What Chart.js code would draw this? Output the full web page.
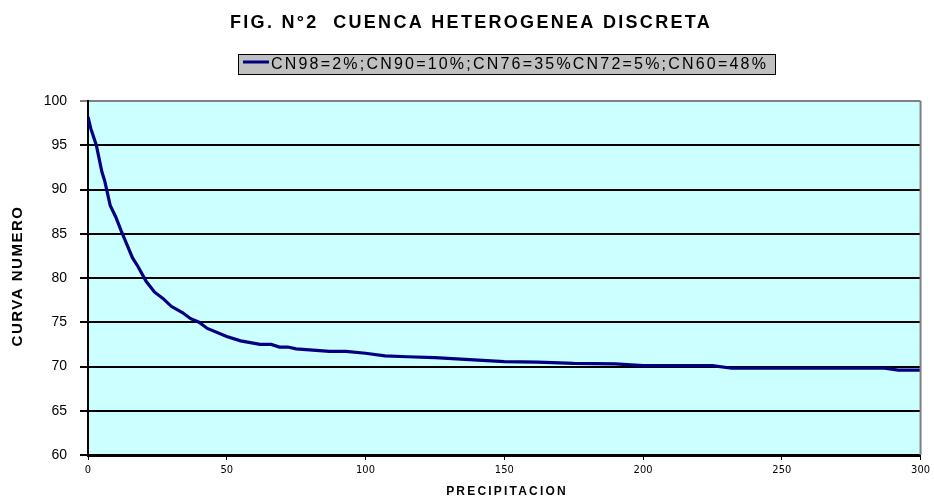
<!DOCTYPE html>
<html>
<head>
<meta charset="utf-8">
<script src="https://cdn.jsdelivr.net/npm/chart.js@4"></script>
<style>
html,body{margin:0;padding:0;background:#fff;}
#c{display:block;}
</style>
</head>
<body>
<canvas id="c" width="934" height="501"></canvas>
<script>
const chartTitle = 'FIG. N°2  CUENCA HETEROGENEA DISCRETA';
const seriesName = 'CN98=2%;CN90=10%;CN76=35%CN72=5%;CN60=48%';
const xTitle = 'PRECIPITACION';
const yTitle = 'CURVA NUMERO';
const precipitacion = [0,1,3,5,6,8,10,12,14,16,18,21,24,27,30,34,37,40,43,50,55,62,66,69,72,75,87,93,100,107,115,125,150,162,175,190,200,225,232,287,292,300];
const curvaNumero = [98.2,96.9,95.0,92.0,91.0,88.2,86.9,85.3,83.8,82.3,81.3,79.6,78.4,77.7,76.8,76.1,75.4,75.0,74.3,73.4,72.9,72.5,72.5,72.2,72.2,72.0,71.7,71.7,71.5,71.2,71.1,71.0,70.55,70.5,70.35,70.3,70.1,70.1,69.8,69.8,69.6,69.6];
const xTicks = [0,50,100,150,200,250,300];
const yTicks = [60,65,70,75,80,85,90,95,100];

const points = precipitacion.map((p,i)=>({x:p, y:curvaNumero[i]}));
const lineColor = '#000080';

const deco = {
  id:'deco',
  beforeDraw(chart){
    const {ctx, chartArea:a} = chart;
    ctx.save();
    ctx.fillStyle = '#ffffff';
    ctx.fillRect(0,0,chart.width,chart.height);
    ctx.fillStyle = '#CCFFFF';
    ctx.fillRect(a.left,a.top,a.right-a.left,a.bottom-a.top);
    ctx.restore();
  },
  afterDraw(chart){
    const {ctx, chartArea:a} = chart;
    ctx.save();
    // right border
    ctx.strokeStyle = '#808080';
    ctx.lineWidth = 2;
    ctx.beginPath();
    ctx.moveTo(a.right, a.top);
    ctx.lineTo(a.right, a.bottom);
    ctx.stroke();

    // title
    ctx.fillStyle = '#000';
    ctx.textBaseline = 'middle';
    ctx.textAlign = 'center';
    ctx.font = 'bold 18px "Liberation Sans", Arial, sans-serif';
    ctx.letterSpacing = '2.3px';
    ctx.fillText(chartTitle, 471, 23);

    // legend box
    ctx.letterSpacing = '0px';
    ctx.fillStyle = '#C0C0C0';
    ctx.fillRect(238, 54, 537, 20);
    ctx.strokeStyle = '#000';
    ctx.lineWidth = 1;
    ctx.strokeRect(238.5, 54.5, 537, 20);
    ctx.strokeStyle = lineColor;
    ctx.lineWidth = 3;
    ctx.beginPath();
    ctx.moveTo(243, 62);
    ctx.lineTo(269, 62);
    ctx.stroke();
    ctx.fillStyle = '#000';
    ctx.textAlign = 'left';
    ctx.font = '16px "Liberation Sans", Arial, sans-serif';
    ctx.letterSpacing = '2.2px';
    ctx.fillText(seriesName, 271, 65);

    // x title
    ctx.textAlign = 'center';
    ctx.font = 'bold 12px "Liberation Sans", Arial, sans-serif';
    ctx.letterSpacing = '2.2px';
    ctx.fillText(xTitle, 507, 492);

    // y title
    ctx.translate(18, 276);
    ctx.rotate(-Math.PI/2);
    ctx.font = 'bold 15px "Liberation Sans", Arial, sans-serif';
    ctx.letterSpacing = '1.5px';
    ctx.fillText(yTitle, 0, 0);
    ctx.restore();
  }
};

new Chart(document.getElementById('c'), {
  type:'line',
  data:{
    datasets:[{
      label: seriesName,
      data: points,
      borderColor: lineColor,
      backgroundColor: lineColor,
      borderWidth: 3.2,
      pointRadius: 0,
      tension: 0,
      fill: false
    }]
  },
  options:{
    responsive:false,
    animation:false,
    devicePixelRatio:1,
    layout:{padding:{top:101, left:0, right:11, bottom:16}},
    plugins:{legend:{display:false}, title:{display:false}, tooltip:{enabled:false}},
    scales:{
      x:{
        type:'linear',
        min:0, max:300,
        afterFit(s){ s.height = 30; },
        afterBuildTicks(s){ s.ticks = xTicks.map(v=>({value:v})); },
        grid:{drawOnChartArea:false, drawTicks:true, tickLength:5, color:'#000', lineWidth:1},
        border:{display:true, color:'#000', width:3},
        ticks:{
          color:'#000',
          padding:4,
          maxRotation:0,
          autoSkip:false,
          font:{family:'"Liberation Sans Narrow", "DejaVu Sans Condensed", Arial, sans-serif', size:11}
        }
      },
      y:{
        type:'linear',
        min:60, max:100,
        afterFit(s){ s.width = 88; },
        afterBuildTicks(s){ s.ticks = yTicks.map(v=>({value:v})); },
        grid:{
          drawOnChartArea:true, drawTicks:true, tickLength:8,
          color:(c)=> (c.tick && c.tick.value===100) ? '#808080' : '#000',
          lineWidth:2
        },
        border:{display:true, color:'#000', width:2},
        ticks:{
          color:'#000',
          padding:13,
          font:{family:'"Liberation Sans", Arial, sans-serif', size:14}
        }
      }
    }
  },
  plugins:[deco]
});
</script>
</body>
</html>
